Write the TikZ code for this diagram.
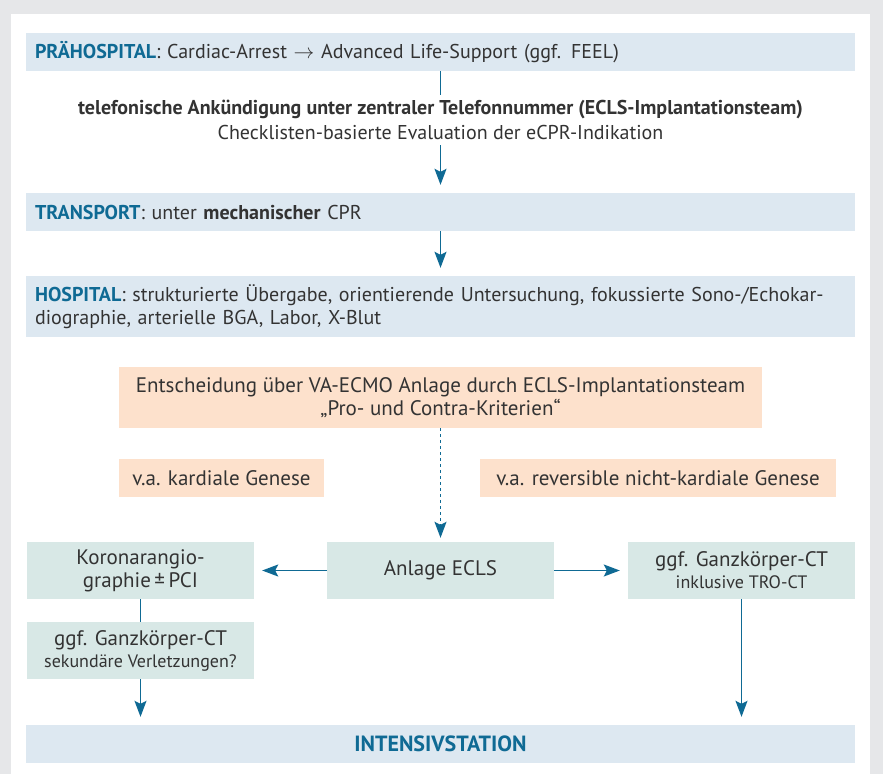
\documentclass[tikz,border=0pt]{standalone}
\usepackage{fontspec}
\setmainfont{PT Sans}
\usetikzlibrary{arrows.meta}

\definecolor{panelgray}{HTML}{E6E7E9}
\definecolor{phaseblue}{HTML}{DDE8F1}
\definecolor{stepteal}{HTML}{D8E8E6}
\definecolor{decpeach}{HTML}{FDE1CC}
\definecolor{darkblue}{HTML}{0F6A94}
\definecolor{textgray}{HTML}{333333}

\begin{document}
\begin{tikzpicture}[x=1pt, y=-1pt, >={Stealth[length=16pt, width=12pt, inset=3pt]},
  every node/.style={font=\fontsize{20}{23}\selectfont, text=textgray, inner sep=0pt},
  phase/.style={fill=phaseblue, text width=811pt, inner xsep=9pt, minimum height=38pt, align=left},
  decision/.style={fill=decpeach, minimum height=38pt, align=center, font=\fontsize{21}{23}\selectfont},
  stepbox/.style={fill=stepteal, minimum width=227pt, minimum height=57pt, align=center,
    font=\fontsize{21}{23}\selectfont},
  flow/.style={->, draw=darkblue, line width=1.4pt, shorten >=8pt}]
  % background panel
  \fill[panelgray] (0,0) rectangle (883,774);
  \fill[white] (11,14) rectangle (870,774);

  % phases
  \node[phase] (pre) at (440.5,52) {\textbf{\textcolor{darkblue}{PRÄHOSPITAL}}: Cardiac-Arrest $\rightarrow$ Advanced Life-Support (ggf. FEEL)};
  \node[align=center, minimum height=50pt, font=\fontsize{20}{25}\selectfont] (tel) at (440.5,120)
    {\textbf{telefonische Ankündigung unter zentraler Telefonnummer (ECLS-Implantationsteam)}\\
     Checklisten-basierte Evaluation der eCPR-Indikation};
  \node[phase] (trans) at (440.5,212) {\textbf{\textcolor{darkblue}{TRANSPORT}}: unter \textbf{mechanischer} CPR};
  \node[phase, minimum height=61pt] (hosp) at (440.5,306.5)
    {\textbf{\textcolor{darkblue}{HOSPITAL}}: strukturierte Übergabe, orientierende Untersuchung, fokussierte Sono-/Echokar-\\
     diographie, arterielle BGA, Labor, X-Blut};

  % decision
  \node[decision, minimum width=643pt, minimum height=61pt] (ent) at (440.5,397.5)
    {Entscheidung über VA-ECMO Anlage durch ECLS-Implantationsteam\\ „Pro- und Contra-Kriterien“};
  \node[decision, minimum width=205pt] (kard) at (221.5,478) {v.a. kardiale Genese};
  \node[decision, minimum width=356pt] (rev) at (658,478) {v.a. reversible nicht-kardiale Genese};

  % steps
  \node[stepbox] (anl) at (440.5,570.5) {Anlage ECLS};
  \node[stepbox] (koro) at (140.5,570.5) {Koronarangio-\\graphie\,±\,PCI};
  \node[stepbox] (ctr) at (741.5,570.5) {ggf. Ganzkörper-CT\\[-1pt]{\fontsize{18}{20}\selectfont inklusive TRO-CT}};
  \node[stepbox] (ctl) at (140.5,650.5) {ggf. Ganzkörper-CT\\[-1pt]{\fontsize{18}{20}\selectfont sekundäre Verletzungen?}};
  \node[phase, align=center, font=\fontsize{22}{23}\selectfont] (int) at (440.5,744) {\textbf{\textcolor{darkblue}{INTENSIVSTATION}}};

  % connectors
  \draw[darkblue, line width=1.4pt] (pre) -- (tel);
  \draw[flow] (tel) -- (trans);
  \draw[flow] (trans) -- (hosp);
  \draw[flow, dash pattern=on 3pt off 3pt, shorten >=4pt] (ent) -- (anl);
  \draw[flow] (anl) -- (koro);
  \draw[flow] (anl) -- (ctr);
  \draw[darkblue, line width=1.4pt] (koro) -- (ctl);
  \draw[flow] (ctl.south) -- (ctl.south |- int.north);
  \draw[flow] (ctr.south) -- (ctr.south |- int.north);
\end{tikzpicture}
\end{document}
